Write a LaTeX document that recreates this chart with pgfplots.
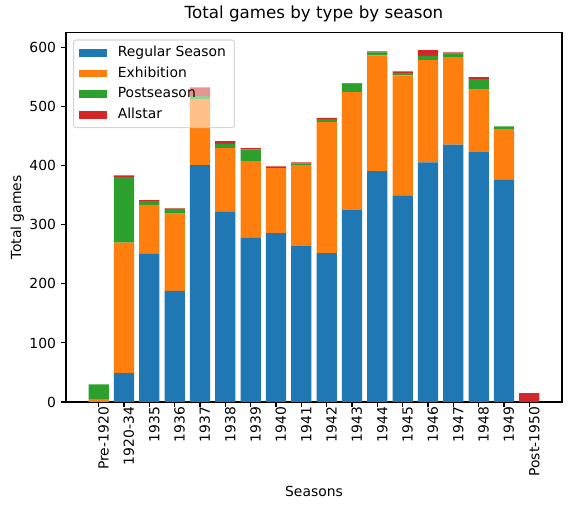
\documentclass[border=0pt]{standalone}
\usepackage{fontspec}
\setmainfont{DejaVu Sans}
\usepackage{pgfplots}
\pgfplotsset{compat=1.18}
\definecolor{c0}{HTML}{1F77B4}
\definecolor{c1}{HTML}{FF7F0E}
\definecolor{c2}{HTML}{2CA02C}
\definecolor{c3}{HTML}{D62728}
\definecolor{legframe}{HTML}{CCCCCC}
\pgfplotsset{patchlegend/.style={legend image code/.code={\fill[##1, fill opacity=1, sharp corners] (0pt,-3.9pt) rectangle (27.8pt,3.9pt);}}}
\newcommand{\fs}{\fontsize{13.9}{16}\selectfont}
\begin{document}
\begin{tikzpicture}
\begin{axis}[
  at={(0,0)}, anchor=south west,
  scale only axis, width=496pt, height=369.5pt,
  ybar stacked, bar width=0.8,
  xmin=-1.29, xmax=18.29, ymin=0, ymax=625.8,
  xtick={0,...,17},
  xticklabels={Pre-1920,1920-34,1935,1936,1937,1938,1939,1940,1941,1942,1943,1944,1945,1946,1947,1948,1949,Post-1950},
  ytick={0,100,...,600},
  tick align=outside, tick pos=left,
  major tick length=4.9pt,
  every tick/.style={black, line width=1.1pt},
  axis line style={line width=1.1pt},
  /pgf/number format/assume math mode=true,
  tick label style={font=\fs},
  xticklabel style={rotate=90, anchor=east, inner sep=0pt, yshift=-4.9pt},
  yticklabel style={inner sep=0pt, xshift=-4.9pt},
  xlabel={Seasons}, ylabel={Total games},
  label style={font=\fs},
  xlabel style={yshift=-6pt},
  ylabel style={yshift=2pt},
  title={Total games by type by season},
  title style={font=\fontsize{16.7}{19}\selectfont, at={(0.5,1)}, anchor=base, yshift=8.3pt},
  legend cell align=left,
  legend style={at={(0,1)}, anchor=north west, xshift=7pt, yshift=-7pt,
    fill=white, fill opacity=0.5, draw opacity=0.8, text opacity=1,
    draw=legframe, line width=1.1pt, rounded corners=2.5pt, font=\fs,
    row sep=3.2pt, inner xsep=5.5pt, inner ysep=4pt,
    nodes={text height=10.5pt, text depth=3pt, inner ysep=2pt, inner xsep=3pt},
    /tikz/every odd column/.append style={column sep=8pt}},
]
\addplot[fill=c0, draw=none, patchlegend] coordinates {
  (0,0) (1,49) (2,251) (3,188) (4,401) (5,323) (6,278) (7,286) (8,264)
  (9,252) (10,325) (11,391) (12,350) (13,406) (14,436) (15,423) (16,376) (17,0)};
\addplot[fill=c1, draw=none, patchlegend] coordinates {
  (0,5) (1,221) (2,83) (3,131) (4,112) (5,107) (6,130) (7,110) (8,137)
  (9,222) (10,200) (11,196) (12,203) (13,173) (14,148) (15,107) (16,86) (17,0)};
\addplot[fill=c2, draw=none, patchlegend] coordinates {
  (0,25) (1,111) (2,6) (3,8) (4,5) (5,7) (6,20) (7,0) (8,3)
  (9,5) (10,14) (11,5) (12,4) (13,7) (14,6) (15,17) (16,5) (17,0)};
\addplot[fill=c3, draw=none, patchlegend] coordinates {
  (0,0) (1,3) (2,2) (3,1) (4,15) (5,5) (6,2) (7,3) (8,2)
  (9,2) (10,1) (11,2) (12,3) (13,10) (14,2) (15,3) (16,0) (17,15)};
\legend{Regular Season,Exhibition,Postseason,Allstar}
\end{axis}
\pgfresetboundingbox
\path (-66pt,-108pt) rectangle (505pt,402pt);
\end{tikzpicture}
\end{document}
